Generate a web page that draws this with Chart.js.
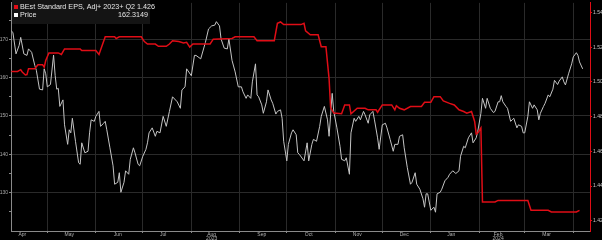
<!DOCTYPE html>
<html>
<head>
<meta charset="utf-8">
<script src="https://cdn.jsdelivr.net/npm/chart.js@4"></script>
<style>
html, body { margin: 0; padding: 0; background: #000; }
</style>
</head>
<body>
<canvas id="chart" width="602" height="240"></canvas>
<script>
// x values are days counted from 1 Apr 2023
var priceDays = [7, 8, 10, 12, 13, 15, 17, 18, 20, 22, 23, 25, 27, 28, 29, 30, 32, 34, 35, 36,
    37, 38, 40, 41, 43, 44, 45, 46, 48, 50, 51, 52, 54, 56, 57, 58, 60, 61, 63, 64,
    66, 67, 68, 70, 72, 73, 75, 76, 77, 79, 80, 82, 83, 85, 86, 88, 89, 91, 93, 94,
    95, 97, 99, 100, 102, 104, 106, 108, 110, 113, 115, 116, 118, 119, 122, 124, 125, 128, 131, 133,
    135, 137, 138, 140, 141, 143, 145, 146, 148, 150, 152, 154, 155, 157, 158, 160, 161, 163, 164, 165,
    167, 168, 170, 171, 173, 174, 176, 177, 179, 180, 181, 183, 184, 186, 187, 189, 190, 191, 194, 196,
    197, 199, 200, 202, 204, 205, 207, 209, 210, 212, 213, 215, 217, 218, 220, 221, 223, 224, 226, 227,
    229, 230, 232, 233, 235, 236, 238, 239, 241, 242, 244, 246, 247, 249, 251, 252, 254, 255, 257, 258,
    260, 262, 263, 265, 266, 268, 270, 271, 272, 273, 275, 277, 278, 279, 281, 282, 284, 286, 287, 289,
    291, 293, 294, 296, 297, 299, 301, 302, 304, 305, 307, 308, 310, 311, 313, 315, 316, 318, 319, 320,
    321, 323, 324, 326, 327, 328, 330, 331, 333, 334, 335, 337, 338, 340, 341, 343, 344, 345, 347, 348,
    350, 351, 353, 354, 356, 357, 359, 360, 361, 363, 365, 366, 368, 369, 370, 372];
var priceValues = [172.2, 171.8, 166.2, 168.4, 170.5, 166.2, 165.8, 167.5, 166.6, 163.2, 161.9, 157.0, 156.8, 162.3, 161.0, 157.6, 158.2, 165.9, 160.6, 157.0,
    157.2, 152.5, 154.2, 147.7, 142.6, 146.4, 145.6, 149.4, 143.4, 137.8, 137.4, 143.0, 140.4, 140.8, 145.6, 149.0, 148.6, 149.9, 151.2, 147.3,
    148.1, 148.6, 146.4, 141.7, 137.0, 132.2, 132.7, 135.2, 130.1, 132.7, 135.7, 134.8, 138.7, 141.7, 140.4, 137.4, 137.0, 139.5, 141.3, 143.0,
    145.6, 146.9, 144.7, 146.0, 145.6, 149.9, 147.3, 151.2, 155.0, 153.7, 152.0, 156.8, 157.6, 162.3, 160.5, 165.8, 165.8, 164.9, 169.2, 172.7,
    173.5, 173.7, 174.6, 173.5, 170.1, 167.7, 167.5, 170.1, 164.5, 161.5, 157.6, 157.6, 156.3, 154.6, 155.5, 154.6, 158.9, 163.6, 155.5, 155.0,
    152.9, 150.7, 153.7, 156.8, 154.2, 153.3, 150.5, 151.2, 151.6, 149.4, 143.4, 138.3, 142.6, 145.6, 146.4, 145.1, 140.4, 140.0, 138.3, 143.0,
    138.3, 142.6, 143.9, 143.4, 147.3, 149.9, 152.5, 149.0, 144.7, 155.9, 151.2, 146.9, 142.1, 138.7, 138.3, 139.1, 134.8, 145.6, 149.4, 148.6,
    149.9, 149.0, 151.2, 150.3, 148.1, 150.3, 151.2, 149.0, 144.3, 141.3, 147.7, 148.1, 146.9, 143.9, 140.8, 142.6, 142.6, 144.7, 145.1, 141.7,
    136.5, 132.2, 132.7, 135.2, 132.2, 130.9, 128.4, 126.2, 129.7, 129.7, 125.4, 126.2, 124.9, 129.7, 130.1, 130.9, 133.1, 134.0, 134.8, 135.7,
    135.0, 135.7, 139.5, 142.1, 141.7, 144.3, 145.6, 143.0, 144.3, 146.0, 150.7, 154.6, 152.0, 154.6, 152.0, 150.9, 151.2, 153.7, 153.7, 155.3,
    153.7, 152.5, 152.0, 148.6, 149.0, 149.4, 146.9, 147.7, 147.3, 145.6, 145.6, 149.9, 153.7, 152.0, 152.9, 151.6, 149.0, 150.7, 152.5, 153.3,
    155.5, 155.0, 157.0, 159.3, 158.2, 159.1, 160.2, 158.9, 158.1, 161.0, 163.6, 165.4, 166.5, 165.8, 164.1, 162.3];

var epsDays = [7, 11, 13, 14, 16, 17, 18, 22, 24, 27, 28, 29, 31, 37, 39, 41, 51, 52, 61, 63,
    67, 73, 74, 76, 90, 92, 94, 99, 101, 106, 108, 110, 114, 117, 119, 121, 123, 134, 136, 148,
    150, 162, 164, 175, 177, 179, 181, 192, 194, 195, 198, 203, 205, 208, 210, 211, 213, 218, 220, 223,
    224, 228, 233, 235, 240, 241, 244, 250, 252, 253, 255, 258, 262, 269, 271, 275, 277, 281, 283, 287,
    290, 293, 296, 298, 301, 303, 304, 305, 307, 308, 316, 318, 337, 339, 350, 352, 368, 370];
var epsValues = [1.506, 1.506, 1.507, 1.5057, 1.504, 1.5042, 1.5076, 1.5076, 1.5098, 1.5098, 1.5085, 1.5123, 1.5167, 1.5167, 1.5158, 1.519, 1.519, 1.518, 1.518, 1.5158,
    1.526, 1.526, 1.525, 1.526, 1.526, 1.5232, 1.5218, 1.5218, 1.5205, 1.5205, 1.5218, 1.5237, 1.5232, 1.5224, 1.5228, 1.520, 1.5218, 1.5218, 1.5246, 1.525,
    1.526, 1.526, 1.5237, 1.5237, 1.5337, 1.5345, 1.533, 1.533, 1.5337, 1.5294, 1.5271, 1.5271, 1.5203, 1.5203, 1.5019, 1.4852, 1.482, 1.4816, 1.4867, 1.4867,
    1.4816, 1.4848, 1.4848, 1.4839, 1.4839, 1.4825, 1.4867, 1.4867, 1.4839, 1.4863, 1.4848, 1.4839, 1.4858, 1.4858, 1.4882, 1.4882, 1.4915, 1.4915, 1.489, 1.4876,
    1.4867, 1.4839, 1.4829, 1.482, 1.4829, 1.4772, 1.470, 1.4706, 1.4734, 1.4308, 1.4308, 1.4317, 1.4317, 1.426, 1.426, 1.4251, 1.4251, 1.426];

var monthStarts = [30, 61, 91, 122, 153, 183, 214, 244, 275, 306, 335, 366];
var monthMids = [14, 44, 75, 104, 135, 167, 197, 228, 258, 288, 318, 349];
var monthNames = ['Apr', 'May', 'Jun', 'Jul', 'Aug', 'Sep', 'Oct', 'Nov', 'Dec', 'Jan', 'Feb', 'Mar'];
var yearLabels = { 'Aug': '2023', 'Feb': '2024' };
var priceTicks = [125, 130, 135, 140, 145, 150, 155, 160, 165, 170, 175];
var epsTicks = [1.42, 1.44, 1.46, 1.48, 1.50, 1.52, 1.54];

var epsName = 'BEst Standard EPS, Adj+ 2023+ Q2';
var epsLast = '1.426';
var priceName = 'Price';
var priceLast = '162.3149';

var red = '#e00d16';
var gridColor = '#2a2a2a';
var axisColor = '#8a8a8a';
var tickFont = { family: 'Liberation Sans', size: 5, lineHeight: 0.75 };

function toPoints(xs, ys) {
    var out = [];
    for (var i = 0; i < xs.length; i++) {
        out.push({ x: xs[i], y: ys[i] });
    }
    return out;
}

var legendPlugin = {
    id: 'bbgLegend',
    beforeDraw: function (chart) {
        var ctx = chart.ctx;
        ctx.save();
        ctx.fillStyle = '#000';
        ctx.fillRect(0, 0, chart.width, chart.height);
        ctx.restore();
    },
    afterDatasetsDraw: function (chart) {
        var ctx = chart.ctx;
        ctx.save();
        ctx.fillStyle = '#141414';
        ctx.fillRect(12, 0, 138, 24);
        ctx.fillStyle = red;
        ctx.fillRect(14, 5, 4, 4);
        ctx.fillStyle = '#ffffff';
        ctx.fillRect(14, 13, 4, 4);
        ctx.font = '7.2px "Liberation Sans"';
        ctx.fillStyle = '#e6e6e6';
        ctx.textBaseline = 'middle';
        ctx.textAlign = 'left';
        ctx.fillText(epsName + ' ' + epsLast, 20, 7.5);
        ctx.fillText(priceName, 20, 15.5);
        ctx.textAlign = 'right';
        ctx.fillText(priceLast, 148, 15.5);
        ctx.restore();
    }
};

var ctx = document.getElementById('chart');
var chart = new Chart(ctx, {
    type: 'line',
    data: {
        datasets: [{
            label: epsName,
            data: toPoints(epsDays, epsValues),
            yAxisID: 'y1',
            borderColor: red,
            borderWidth: 1.5,
            pointRadius: 0,
            tension: 0
        }, {
            label: priceName,
            data: toPoints(priceDays, priceValues),
            yAxisID: 'y',
            borderColor: '#c4c4c4',
            borderWidth: 1,
            pointRadius: 0,
            tension: 0
        }]
    },
    options: {
        responsive: false,
        animation: false,
        layout: { padding: 0 },
        plugins: {
            legend: { display: false },
            tooltip: { enabled: false },
            title: { display: false }
        },
        scales: {
            x: {
                type: 'linear',
                min: 6.8,
                max: 376.7,
                afterBuildTicks: function (axis) {
                    var t = [];
                    monthStarts.forEach(function (v) { t.push({ value: v }); });
                    monthMids.forEach(function (v) { t.push({ value: v }); });
                    t.sort(function (a, b) { return a.value - b.value; });
                    axis.ticks = t;
                },
                afterFit: function (axis) { axis.height = 9; },
                grid: {
                    color: function (c) {
                        return c.tick && monthStarts.indexOf(c.tick.value) >= 0 ? gridColor : 'transparent';
                    },
                    tickColor: function (c) {
                        return c.tick && monthStarts.indexOf(c.tick.value) >= 0 ? axisColor : 'transparent';
                    },
                    tickLength: 2
                },
                border: { color: axisColor, width: 1 },
                ticks: {
                    autoSkip: false,
                    maxRotation: 0,
                    padding: 0,
                    color: '#b0b0b0',
                    font: tickFont,
                    callback: function (value) {
                        var i = monthMids.indexOf(value);
                        if (i < 0) return '';
                        var name = monthNames[i];
                        return yearLabels[name] ? [name, yearLabels[name]] : name;
                    }
                }
            },
            y: {
                position: 'left',
                min: 120,
                max: 179.5,
                afterBuildTicks: function (axis) {
                    axis.ticks = priceTicks.map(function (v) { return { value: v }; });
                },
                afterFit: function (axis) { axis.width = 11; },
                grid: {
                    color: function (c) {
                        return c.tick && c.tick.value % 10 === 0 ? gridColor : 'transparent';
                    },
                    tickColor: axisColor,
                    tickLength: 2
                },
                border: { color: axisColor, width: 1 },
                ticks: {
                    padding: 1,
                    color: '#a8a8a8',
                    font: tickFont,
                    callback: function (value) { return value % 10 === 0 ? String(value) : ''; }
                }
            },
            y1: {
                position: 'right',
                min: 1.4141,
                max: 1.5455,
                afterBuildTicks: function (axis) {
                    axis.ticks = epsTicks.map(function (v) { return { value: v }; });
                },
                afterFit: function (axis) { axis.width = 12; },
                grid: {
                    drawOnChartArea: false,
                    tickColor: red,
                    tickLength: 2
                },
                border: { color: red, width: 1 },
                ticks: {
                    padding: 1,
                    color: '#c8c8c8',
                    font: tickFont,
                    callback: function (value) { return value.toFixed(2); }
                }
            }
        }
    },
    plugins: [legendPlugin]
});
</script>
</body>
</html>
